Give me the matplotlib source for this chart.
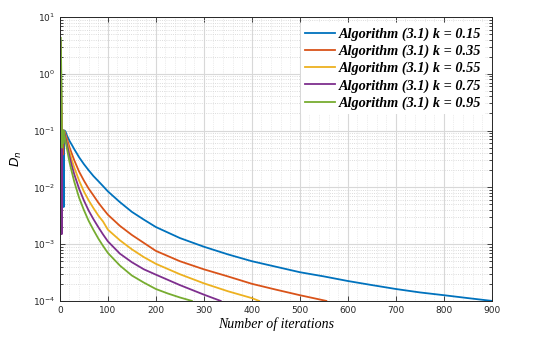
import matplotlib
matplotlib.use("Agg")
import matplotlib.pyplot as plt
from matplotlib.ticker import LogLocator, NullFormatter, MultipleLocator

labels = ["Algorithm (3.1) k = 0.15", "Algorithm (3.1) k = 0.35",
          "Algorithm (3.1) k = 0.55", "Algorithm (3.1) k = 0.75",
          "Algorithm (3.1) k = 0.95"]
colors = ["#0072BD", "#D95319", "#EDB120", "#7E2F8E", "#77AC30"]

blue_x = [2, 3, 4, 5, 6, 7, 8, 9, 10, 12, 15, 20, 25, 30, 35, 40, 50, 60, 70, 80, 90,
          100, 125, 150, 175, 200, 250, 300, 350, 400, 450, 500, 550, 600, 650, 700,
          750, 800, 850, 900]
blue_y = [3.8, 0.6, 0.1, 0.07, 0.1, 0.05, 0.0045, 0.1, 0.1, 0.095, 0.081, 0.066, 0.056,
          0.047, 0.040, 0.034, 0.0257, 0.020, 0.0158, 0.0129, 0.0105, 0.0085, 0.0055,
          0.0037, 0.0027, 0.0020, 0.00128, 0.0009, 0.00066, 0.0005, 0.0004, 0.00032,
          0.00027, 0.000224, 0.00019, 0.000162, 0.000141, 0.000126, 0.000112, 0.0001]

red_x = [2, 3, 4, 5, 6, 7, 8, 10, 15, 20, 25, 30, 40, 50, 60, 70, 80, 90, 100, 125,
         150, 175, 200, 250, 300, 350, 400, 450, 500, 555]
red_y = [3.5, 0.4, 0.1, 0.065, 0.1, 0.038, 0.1, 0.095, 0.071, 0.051, 0.039, 0.030,
         0.019, 0.0132, 0.0095, 0.0072, 0.0054, 0.0042, 0.0033, 0.0021, 0.00145,
         0.00105, 0.00076, 0.0005, 0.00036, 0.00027, 0.0002, 0.000158, 0.000126, 0.0001]

yellow_x = [2, 3, 4, 5, 6, 7, 8, 10, 15, 20, 25, 30, 40, 50, 60, 70, 80, 90, 100, 125,
            150, 175, 200, 250, 300, 350, 400, 415]
yellow_y = [3.6, 0.5, 0.1, 0.07, 0.1, 0.06, 0.1, 0.093, 0.063, 0.0427, 0.030, 0.0224,
            0.0132, 0.0085, 0.0059, 0.0043, 0.0032, 0.0025, 0.0018, 0.00117, 0.00081,
            0.00059, 0.00045, 0.000295, 0.000204, 0.000148, 0.000112, 0.0001]

purple_x = [2, 3, 4, 5, 6, 7, 8, 10, 15, 20, 25, 30, 40, 50, 60, 70, 80, 90, 100, 125,
            150, 175, 200, 250, 300, 335]
purple_y = [3.7, 0.05, 0.0015, 0.06, 0.1, 0.1, 0.1, 0.089, 0.056, 0.0355, 0.024, 0.017,
            0.0095, 0.0059, 0.0039, 0.00275, 0.002, 0.00148, 0.00112, 0.00068, 0.00048,
            0.00036, 0.00029, 0.00019, 0.000129, 0.0001]

green_x = [2, 3, 4, 5, 6, 7, 8, 10, 15, 20, 25, 30, 40, 50, 60, 70, 80, 90, 100, 125,
           150, 175, 200, 225, 250, 275]
green_y = [4.3, 1.0, 0.1, 0.05, 0.1, 0.06, 0.1, 0.079, 0.047, 0.028, 0.0186, 0.0126,
           0.0066, 0.004, 0.00257, 0.00178, 0.00126, 0.00093, 0.0007, 0.00042, 0.00028,
           0.00021, 0.000162, 0.000135, 0.000115, 0.0001]

series_x = [blue_x, red_x, yellow_x, purple_x, green_x]
series_y = [blue_y, red_y, yellow_y, purple_y, green_y]

x_ticks = [0, 100, 200, 300, 400, 500, 600, 700, 800, 900]

fig = plt.figure(figsize=(5.49, 3.40), dpi=100)
ax = fig.add_axes([0.109, 0.115, 0.787, 0.835])

for xs, ys, c, lab in zip(series_x, series_y, colors, labels):
    ax.plot(xs, ys, color=c, lw=1.3, label=lab, solid_joinstyle="round")

ax.set_yscale("log")
ax.set_xlim(0, 900)
ax.set_ylim(1e-4, 1e1)
ax.set_xticks(x_ticks)
ax.yaxis.set_major_locator(LogLocator(base=10, numticks=10))
ax.yaxis.set_minor_locator(LogLocator(base=10, subs=range(2, 10), numticks=20))
ax.yaxis.set_minor_formatter(NullFormatter())

ax.grid(True, which="major", color="#d8d8d8", lw=0.8, ls="-")
ax.grid(True, which="minor", axis="y", color="#d0d0d0", lw=0.6, ls=":")
ax.xaxis.set_minor_locator(MultipleLocator(20))
ax.grid(True, which="minor", axis="x", color="#dcdcdc", lw=0.5, ls=":")
ax.set_axisbelow(True)

ax.tick_params(which="both", direction="in", top=True, right=True, labelsize=6.5,
               colors="#262626", width=0.6)
ax.tick_params(which="major", length=3.5)
ax.tick_params(which="minor", length=2)
ax.tick_params(axis="x", which="minor", length=0)
for s in ax.spines.values():
    s.set_color("#262626")
    s.set_linewidth(0.7)

ax.set_xlabel("Number of iterations", family="Liberation Serif", style="italic",
              fontsize=10, labelpad=2)
ax.set_ylabel(r"$D_n$", fontsize=9, labelpad=6)

leg = ax.legend(loc="upper left", bbox_to_anchor=(0.557, 0.978), frameon=True,
                prop={"family": "Liberation Serif", "style": "italic",
                      "weight": "bold", "size": 10.3},
                handlelength=2.1, handletextpad=0.25, labelspacing=0.26,
                borderaxespad=0.0, borderpad=0.3)
leg.get_frame().set_edgecolor("none")
leg.get_frame().set_facecolor("white")
leg.get_frame().set_alpha(1.0)
leg.get_frame().set_boxstyle("square", pad=0)

fig.savefig("out.png", dpi=100)
